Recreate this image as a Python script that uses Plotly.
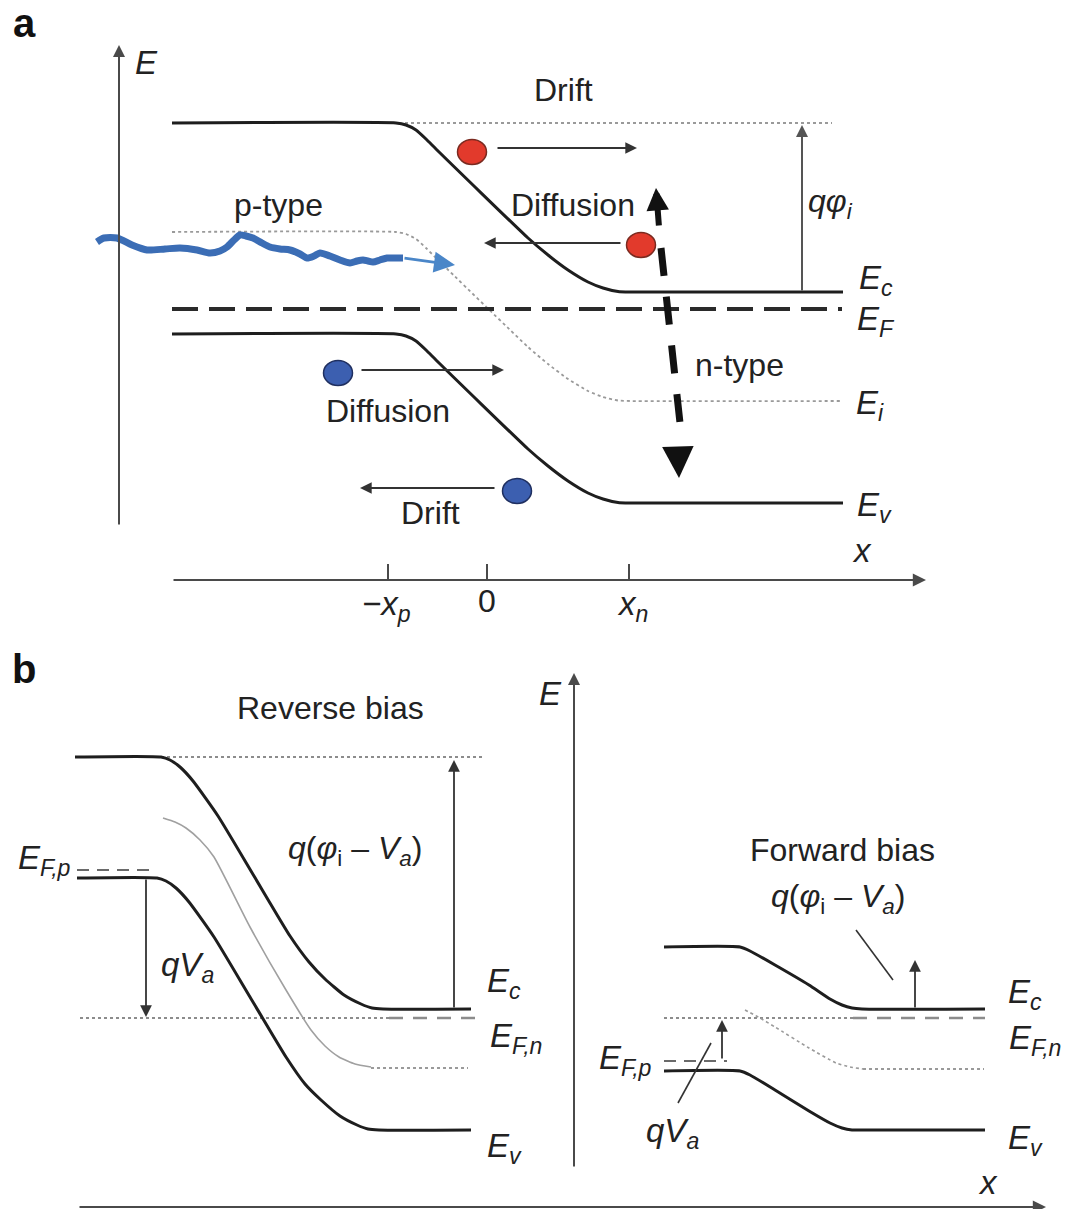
import plotly.graph_objects as go

W, H = 1067, 1209
FONT = "Liberation Sans, Arial, Helvetica, sans-serif"
BLACK = "#1e1e1e"
AXC = "#4a4a4a"

# ---------------- Panel a : band profiles (x, energy drawn downward) ----------------
A_EC_X = [172, 396, 406, 416, 426, 437, 528, 548, 568, 588, 603, 618, 630, 843]
A_EC_Y = [123, 123, 125, 130, 139, 150, 238, 255, 270, 282, 288, 291.5, 292, 292]
A_EV_X = [172, 396, 406, 416, 426, 437, 528, 548, 568, 588, 603, 618, 630, 843]
A_EV_Y = [334, 334, 336, 341, 350, 361, 449, 466, 481, 493, 499, 502.5, 503, 503]
A_EI_X = [172, 396, 406, 416, 426, 437, 528, 548, 568, 588, 603, 618, 630, 840]
A_EI_Y = [232, 232, 234, 239, 248, 259, 347, 364, 379, 391, 397, 400.5, 401, 401]
A_EF_X = [172, 842]
A_EF_Y = [309, 309]
A_REF_X = [405, 832]
A_REF_Y = [123, 123]
A_WAVE_X = [97, 104, 117, 132, 147, 165, 180, 197, 210, 220, 227, 234, 240, 246,
            253, 262, 270, 280, 290, 300, 307, 314, 320, 330, 340, 350, 357,
            363, 368, 373, 380, 387, 395, 403]
A_WAVE_Y = [242, 238, 238, 245, 250, 249, 248, 250, 253, 251, 247, 240, 235, 236,
            238, 243, 247, 249, 250, 254, 258, 256, 253, 256, 260, 263, 261,
            260, 261, 262, 260, 258, 258, 258]
A_ELEC_X = [472, 641]
A_ELEC_Y = [152, 245]
A_HOLE_X = [338, 517]
A_HOLE_Y = [373, 491]
A_TICK_X = [388, 487, 629]
A_TICK_LABELS = ["<i>−x<sub>p</sub></i>", "0", "<i>x<sub>n</sub></i>"]
A_XAXIS_Y = 580

# ---------------- Panel b : reverse bias ----------------
R_EC_X = [75, 161, 170, 180, 193, 218, 254, 290, 309, 325, 344, 361, 372, 383, 471]
R_EC_Y = [757, 757, 760, 767, 781, 816, 876, 936, 962, 979, 995, 1004, 1008, 1009, 1009]
R_EV_X = [77, 157, 166, 176, 189, 214, 250, 286, 305, 321, 340, 357, 368, 379, 471]
R_EV_Y = [878, 878, 881, 888, 902, 937, 997, 1057, 1084, 1100, 1116, 1125, 1129, 1130, 1130]
R_EI_X = [163, 175, 186, 200, 214, 250, 286, 311, 325, 339, 355, 371]
R_EI_Y = [818, 822, 828, 840, 857, 927, 990, 1030, 1046, 1057, 1064, 1067]
R_EI_FLAT_X = [371, 468]
R_EI_FLAT_Y = [1068, 1068]
R_TOP_X = [161, 482]
R_TOP_Y = [757, 757]
R_EFP_X = [77, 157]
R_EFP_Y = [870, 870]
R_EFN_X = [80, 389, 477]
R_EFN_Y = [1018, 1018, 1018]

# ---------------- Panel b : forward bias ----------------
F_EC_X = [664, 740, 750, 775, 809, 830, 842, 852, 862, 985]
F_EC_Y = [947, 947, 951, 965, 985, 999, 1005, 1008, 1009, 1009]
F_EV_X = [664, 740, 750, 775, 809, 830, 842, 852, 862, 985]
F_EV_Y = [1071, 1071, 1075, 1090, 1111, 1123, 1128, 1130, 1130, 1130]
F_EI_X = [745, 760, 775, 809, 836, 850, 863]
F_EI_Y = [1010, 1018, 1027, 1048, 1063, 1067, 1069]
F_EI_FLAT_X = [863, 984]
F_EI_FLAT_Y = [1069, 1069]
F_EFN_X = [664, 853, 985]
F_EFN_Y = [1018, 1018, 1018]
F_EFP_X = [664, 727]
F_EFP_Y = [1061, 1061]

fig = go.Figure()


def line(xs, ys, color=BLACK, width=3, dash="solid", spline=False, smooth=0.5):
    fig.add_trace(go.Scatter(
        x=xs, y=ys, mode="lines", hoverinfo="skip",
        line=dict(color=color, width=width, dash=dash,
                  shape="spline" if spline else "linear",
                  smoothing=smooth if spline else None)))


def arrow(x0, y0, x1, y1, color=AXC, width=1.8, size=1.3, head=2):
    fig.add_annotation(x=x1, y=y1, ax=x0, ay=y0, xref="x", yref="y",
                       axref="x", ayref="y", text="", showarrow=True,
                       arrowhead=head, arrowsize=size, arrowwidth=width,
                       arrowcolor=color, standoff=0, startstandoff=0)


def text(x, y, s, size=32, color="#222222", bold=False):
    if bold:
        s = "<b>" + s + "</b>"
    fig.add_annotation(x=x, y=y, xref="x", yref="y", text=s, showarrow=False,
                       font=dict(family=FONT, size=size, color=color),
                       xanchor="center", yanchor="middle")


def dots(xs, ys, fill, edge, w=29, h=25):
    for cx, cy in zip(xs, ys):
        fig.add_shape(type="circle", xref="x", yref="y",
                      x0=cx - w / 2, x1=cx + w / 2, y0=cy - h / 2, y1=cy + h / 2,
                      fillcolor=fill, line=dict(color=edge, width=1.5), layer="above")


# ===== Panel a =====
arrow(119, 526, 119, 45, AXC, 2, 1.2)
arrow(172, A_XAXIS_Y, 926, A_XAXIS_Y, AXC, 2.2, 1.2)
for tx in A_TICK_X:
    line([tx, tx], [A_XAXIS_Y - 16, A_XAXIS_Y], AXC, 2)

line(A_REF_X, A_REF_Y, "#9a9a9a", 1.8, "dot")
line(A_EI_X, A_EI_Y, "#9a9a9a", 1.8, "dot", spline=True)
line(A_EF_X, A_EF_Y, "#2a2a2a", 4, "26px,11px")
line(A_EC_X, A_EC_Y, BLACK, 3, spline=True)
line(A_EV_X, A_EV_Y, BLACK, 3, spline=True)

arrow(802, 292, 802, 125, "#555555", 2, 1.2)

line(A_WAVE_X, A_WAVE_Y, "#3b6db5", 7, spline=True, smooth=0.7)
arrow(403, 258, 455, 265, "#4a86c8", 2.8, 1.5)

arrow(496, 148, 637, 148, "#333333", 1.8, 1.3)
arrow(622, 243, 484, 243, "#333333", 1.8, 1.3)
arrow(360, 370, 504, 370, "#333333", 1.8, 1.3)
arrow(496, 488, 360, 488, "#333333", 1.8, 1.3)

dots(A_ELEC_X, A_ELEC_Y, "#e23a2c", "#7a2a20")
dots(A_HOLE_X, A_HOLE_Y, "#3c5fb0", "#1f2f60")

# thick dashed double arrow
line([661, 680], [248, 423], "#111111", 7, "28px,21px")
arrow(659, 227, 656, 188, "#111111", 6, 0.75)
arrow(678, 450, 679, 478, "#111111", 7, 0.9)

text(24, 23, "a", 40, "#111111", bold=True)
text(146, 62, "<i>E</i>", 33)
text(563, 90, "Drift", 32)
text(573, 205, "Diffusion", 32)
text(830, 203, "<i>qφ<sub>i</sub></i>", 32)
text(278, 205, "p-type", 32)
text(876, 280, "<i>E<sub>c</sub></i>", 33)
text(876, 321, "<i>E<sub>F</sub></i>", 33)
text(739, 365, "n-type", 32)
text(870, 405, "<i>E<sub>i</sub></i>", 33)
text(388, 411, "Diffusion", 32)
text(430, 513, "Drift", 32)
text(874, 507, "<i>E<sub>v</sub></i>", 33)
text(862, 550, "<i>x</i>", 33)
text(386, 606, A_TICK_LABELS[0], 33)
text(487, 601, A_TICK_LABELS[1], 32)
text(632, 606, A_TICK_LABELS[2], 33)

# ===== Panel b =====
arrow(78, 1207, 1046, 1207, AXC, 2.2, 1.2)
arrow(574, 1168, 574, 673, AXC, 2, 1.2)

# reverse bias
line(R_TOP_X, R_TOP_Y, "#8c8c8c", 2, "dot")
line(R_EFN_X[:2], R_EFN_Y[:2], "#8c8c8c", 2, "dot")
line(R_EFN_X[1:], R_EFN_Y[1:], "#8c8c8c", 2.5, "14px,10px")
line(R_EFP_X, R_EFP_Y, "#6a6a6a", 2, "12px,8px")
line(R_EI_X, R_EI_Y, "#a0a0a0", 1.6, spline=True)
line(R_EI_FLAT_X, R_EI_FLAT_Y, "#9a9a9a", 1.8, "dot")
line(R_EC_X, R_EC_Y, BLACK, 3, spline=True)
line(R_EV_X, R_EV_Y, BLACK, 3, spline=True)
arrow(146, 878, 146, 1017, "#333333", 1.8, 1.3)
arrow(454, 1009, 454, 760, "#333333", 1.8, 1.3)

# forward bias
line(F_EFN_X[:2], F_EFN_Y[:2], "#8c8c8c", 2, "dot")
line(F_EFN_X[1:], F_EFN_Y[1:], "#8c8c8c", 2.5, "14px,10px")
line(F_EFP_X, F_EFP_Y, "#6a6a6a", 2, "12px,8px")
line(F_EI_X, F_EI_Y, "#9a9a9a", 1.6, "dot", spline=True)
line(F_EI_FLAT_X, F_EI_FLAT_Y, "#9a9a9a", 1.8, "dot")
line(F_EC_X, F_EC_Y, BLACK, 3, spline=True)
line(F_EV_X, F_EV_Y, BLACK, 3, spline=True)
arrow(722, 1060, 722, 1020, "#333333", 1.8, 1.3)
arrow(915, 1009, 915, 960, "#333333", 1.8, 1.3)
line([678, 711], [1103, 1043], "#333333", 1.6)
line([856, 893], [930, 980], "#333333", 1.6)

text(24, 669, "b", 40, "#111111", bold=True)
text(330, 708, "Reverse bias", 32)
text(550, 693, "<i>E</i>", 33)
text(44, 860, "<i>E<sub>F,p</sub></i>", 33)
text(355, 850, "<i>q</i>(<i>φ</i><sub>i</sub> – <i>V<sub>a</sub></i>)", 32)
text(187, 967, "<i>qV<sub>a</sub></i>", 33)
text(504, 983, "<i>E<sub>c</sub></i>", 33)
text(516, 1038, "<i>E<sub>F,n</sub></i>", 33)
text(504, 1148, "<i>E<sub>v</sub></i>", 33)
text(842, 850, "Forward bias", 32)
text(838, 898, "<i>q</i>(<i>φ</i><sub>i</sub> – <i>V<sub>a</sub></i>)", 32)
text(1025, 994, "<i>E<sub>c</sub></i>", 33)
text(1035, 1040, "<i>E<sub>F,n</sub></i>", 33)
text(625, 1060, "<i>E<sub>F,p</sub></i>", 33)
text(672, 1133, "<i>qV<sub>a</sub></i>", 33)
text(1025, 1140, "<i>E<sub>v</sub></i>", 33)
text(988, 1182, "<i>x</i>", 33)

fig.update_layout(
    width=W, height=H, margin=dict(l=0, r=0, t=0, b=0),
    paper_bgcolor="white", plot_bgcolor="white", showlegend=False,
    xaxis=dict(range=[0, W], visible=False, fixedrange=True),
    yaxis=dict(range=[H, 0], visible=False, fixedrange=True),
)
fig.write_html("out.html")
